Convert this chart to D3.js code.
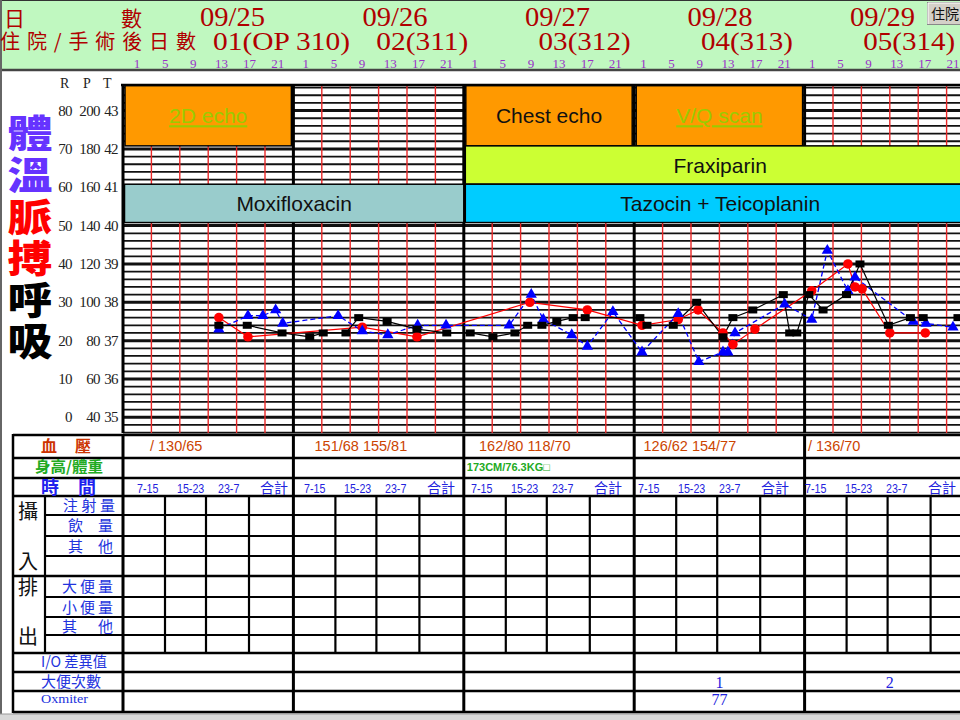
<!DOCTYPE html>
<html><head><meta charset="utf-8">
<script src="https://cdn.jsdelivr.net/npm/d3@7"></script>
<style>body{margin:0;background:#fff}svg{display:block}</style>
</head><body>
<svg id="c" width="960" height="720"></svg>
<script>
// ---------------- DATA ----------------
const days = ["09/25","09/26","09/27","09/28","09/29"];
const dayCounts = ["01(OP 310)","02(311)","03(312)","04(313)","05(314)"];
const hourTicks = [1,5,9,13,17,21];
const tempTicks = [35,36,37,38,39,40,41,42,43];
const pulseTicks = [40,60,80,100,120,140,160,180,200];
const respTicks = [0,10,20,30,40,50,60,70,80];
const bloodPressure = ["/ 130/65","151/68 155/81","162/80 118/70","126/62 154/77","/ 136/70"];
const heightWeight = ["","","173CM/76.3KG□","",""];
const shifts = ["7-15","15-23","23-7","合計"];
const stoolCount = ["","","","1","2"];
const oxmeter = ["","","","77",""];
const intakeLabels = ["注 射 量","飲　量","其　他",""];
const outputLabels = ["大 便 量","小 便 量","其　他",""];
const summaryLabels = ["I/O 差異值","大便次數","Oxmiter"];
const sideTitles = [["體溫","#6633ff"],["脈搏","#ff0000"],["呼吸","#000000"]];
// events: label, first day index, last day index, band row, fill, hyperlink?
const events = [
  {label:"2D echo", from:0, to:0, row:0, fill:"#ff9900", link:true},
  {label:"Chest echo", from:2, to:2, row:0, fill:"#ff9900", link:false},
  {label:"V/Q scan", from:3, to:3, row:0, fill:"#ff9900", link:true},
  {label:"Fraxiparin", from:2, to:5, row:1, fill:"#ccff33", link:false},
  {label:"Moxifloxacin", from:0, to:1, row:2, fill:"#99cccc", link:false},
  {label:"Tazocin + Teicoplanin", from:2, to:5, row:2, fill:"#00ccff", link:false}
];
// time in hours since 09/25 00:00
const pulse = [[12.5,92],[16.6,82],[32.7,87],[40.4,82],[56.3,100],[64.4,96],[72.1,88],[77.2,91],[80,96],[83.5,84],[84.9,78],[88,86],[96,106],[101.1,120],[102.1,108],[103.1,107],[107,84],[112,84]];
const temperature = [[12.5,37.3],[16.6,37.65],[18.7,37.65],[20.5,37.8],[21.5,37.45],[29.3,37.65],[32.7,37.25],[36.3,37.15],[40.5,37.4],[44.5,37.4],[53.4,37.4],[56.5,38.2],[58.2,37.55],[62.2,37.15],[64.4,36.85],[68,37.75],[72.1,36.7],[77.2,37.7],[80.1,36.45],[83.5,36.7],[84.2,36.7],[85.2,37.2],[92.2,37.95],[96,37.55],[98.2,39.35],[101.1,38.3],[102.1,38.65],[110.3,37.5],[112.1,37.45],[115.9,37.35]];
const respiration = [[12.5,24],[16.5,24],[21.4,22],[25.3,21],[27.2,22],[30.4,22],[32.2,26],[36.2,25],[40.4,23],[44.6,22],[47.9,22],[51.1,21],[54.2,22],[56,24],[58,24],[60.1,25],[62.4,26],[64.1,26],[71.8,26],[72.8,24],[76.5,24],[79.8,30],[83.5,21],[84.9,26],[87.7,28],[92,32],[92.9,22],[93.9,22],[95.6,32],[97.6,28],[100.9,32],[102.8,40],[106.8,24],[109.9,26],[111.7,26],[116.6,26]];

// ---------------- SETUP ----------------
const svg = d3.select("#c");
const CJK = "'Noto Sans CJK TC','Noto Sans CJK SC',sans-serif";
const SERIF = "'Liberation Serif','DejaVu Serif',serif";
const SANS = "'Liberation Sans',Arial,sans-serif";

const x = d3.scaleLinear().domain([-1,119]).range([123,975]);
const yT = d3.scaleLinear().domain([35,43]).range([417.3,110.6]);
const yP = d3.scaleLinear().domain([40,200]).range([417.3,110.6]);
const yR = d3.scaleLinear().domain([0,80]).range([417.3,110.6]);
const hx = d3.scaleLinear().domain([1,117]).range([137,953]);
const dayX = d => x(-1 + 24*d);
const GT = 85, GB = 433;

svg.append("rect").attr("width",960).attr("height",720).attr("fill","#fff");
// header
svg.append("rect").attr("x",0).attr("y",0).attr("width",960).attr("height",69).attr("fill","#c0f8c0");
svg.append("line").attr("x1",0).attr("x2",960).attr("y1",0.5).attr("y2",0.5).attr("stroke","#333");
svg.append("line").attr("x1",0).attr("x2",960).attr("y1",70).attr("y2",70).attr("stroke","#444").attr("stroke-width",2.5);
svg.append("line").attr("x1",1).attr("x2",1).attr("y1",0).attr("y2",716).attr("stroke","#666").attr("stroke-width",2);
svg.append("rect").attr("x",0).attr("y",714).attr("width",960).attr("height",6).attr("fill","#d8d8d8");
svg.append("line").attr("x1",0).attr("x2",960).attr("y1",714).attr("y2",714).attr("stroke","#999");

const hdr = svg.append("g").attr("fill","#b00000");
hdr.append("text").attr("x",4).attr("y",26).style("font",`21px ${CJK}`).text("日");
hdr.append("text").attr("x",121).attr("y",26).style("font",`21px ${CJK}`).text("數");
hdr.append("text").attr("x",0).attr("y",49).attr("textLength",196).attr("lengthAdjust","spacing")
  .style("font",`20px ${CJK}`).text("住院/手術後日數");
hdr.selectAll("text.date").data(days).join("text").attr("class","date")
  .attr("x",(d,i)=>200+162.5*i).attr("y",26).attr("textLength",65).attr("lengthAdjust","spacingAndGlyphs")
  .style("font",`28px ${SERIF}`).text(d=>d);
hdr.selectAll("text.cnt").data(dayCounts).join("text").attr("class","cnt")
  .attr("x",(d,i)=>i===0?213:214+162.3*i).attr("y",50)
  .attr("textLength",(d,i)=>i===0?137:92).attr("lengthAdjust","spacingAndGlyphs")
  .style("font",`26px ${SERIF}`).text(d=>d);
const tickHours = [];
days.forEach((d,i)=>hourTicks.forEach(h=>tickHours.push({h:h+24*i,label:h})));
svg.append("g").selectAll("text").data(tickHours).join("text")
  .attr("x",d=>hx(d.h)).attr("y",67.5).attr("text-anchor","middle").attr("fill","#9a30c8")
  .style("font",`13px ${SERIF}`).text(d=>d.label);
// button
svg.append("rect").attr("x",927.5).attr("y",2.5).attr("width",40).attr("height",22).attr("fill","#d4d0c8").attr("stroke","#888");
svg.append("path").attr("d","M928,24 L928,3 L968,3").attr("fill","none").attr("stroke","#fff");
svg.append("text").attr("x",931).attr("y",19).style("font",`14px ${CJK}`).attr("fill","#111").text("住院");

// ---------------- LEFT AXIS ----------------
svg.append("g").attr("transform","translate(30,0) scale(1.18,1)")
  .selectAll("text").data(sideTitles).join("text")
  .attr("x",0).attr("y",(d,i)=>114+i*83.2)
  .style("writing-mode","vertical-rl").style("text-orientation","upright")
  .style("letter-spacing","3.6px")
  .attr("fill",d=>d[1]).style("font",`900 38px ${CJK}`).text(d=>d[0]);
const ax = svg.append("g").attr("fill","#222").style("font",`15px ${SERIF}`).style("letter-spacing","-0.6px");
[["R",60],["P",83],["T",103]].forEach(([t,px])=>ax.append("text").attr("x",px).attr("y",88).style("font-size","14px").text(t));
ax.selectAll("text.t").data(tempTicks).join("text").attr("class","t").attr("x",118).attr("y",d=>yT(d)+5).attr("text-anchor","end").text(d=>d);
ax.selectAll("text.p").data(pulseTicks).join("text").attr("class","p").attr("x",100).attr("y",d=>yP(d)+5).attr("text-anchor","end").text(d=>d);
ax.selectAll("text.r").data(respTicks).join("text").attr("class","r").attr("x",72).attr("y",d=>yR(d)+5).attr("text-anchor","end").text(d=>d);

// ---------------- GRID ----------------
const grid = svg.append("g");
const hLines = d3.range(34.6, 43.61, 0.2).map(v=>+v.toFixed(1)).filter(v=>yT(v)>GT && yT(v)<GB);
grid.selectAll("line.h").data(hLines).join("line").attr("class","h")
  .attr("x1",123).attr("x2",960).attr("y1",d=>yT(d)).attr("y2",d=>yT(d))
  .attr("stroke","#111").attr("stroke-width",d=>Math.abs(d-Math.round(d))<0.01?3:1.8);
const slotLines = d3.range(1,30).filter(k=>k%6!==0).map(k=>-1+4*k);
grid.selectAll("line.v").data(slotLines).join("line").attr("class","v")
  .attr("x1",d=>x(d)).attr("x2",d=>x(d)).attr("y1",GT).attr("y2",GB).attr("stroke","#e82828").attr("stroke-width",1.4);
grid.selectAll("line.d").data(d3.range(0,6)).join("line").attr("class","d")
  .attr("x1",d=>dayX(d)).attr("x2",d=>dayX(d)).attr("y1",GT).attr("y2",GB).attr("stroke","#000").attr("stroke-width",3);
grid.append("line").attr("x1",121).attr("x2",960).attr("y1",GT).attr("y2",GT).attr("stroke","#000").attr("stroke-width",2.5);

// ---------------- EVENTS ----------------
const bands = [[43.65,42.08],[42.08,41.08],[41.08,40.08]];
const ev = svg.append("g");
events.forEach(e=>{
  const x0 = dayX(e.from)+ (e.row===0?2:1.5), x1 = Math.min(dayX(e.to+1),990) - (e.row===0?2:0);
  const y0 = yT(bands[e.row][0]), y1 = yT(bands[e.row][1]);
  ev.append("rect").attr("x",x0).attr("y",y0).attr("width",x1-x0).attr("height",y1-y0)
    .attr("fill",e.fill).attr("stroke","#000").attr("stroke-width",1.5);
  const cx = (x0+Math.min(x1,975))/2;
  ev.append("text").attr("x",cx).attr("y",(y0+y1)/2+7.5).attr("text-anchor","middle")
    .attr("fill",e.link?"#99cc00":"#111").style("font",`21px ${SANS}`)
    .style("text-decoration",e.link?"underline":"none").text(e.label);
});

// ---------------- SERIES ----------------
const series = svg.append("g");
const mk = ys => d3.line().x(d=>x(d[0])).y(d=>ys(d[1]));
series.append("path").datum(pulse).attr("d",mk(yP)).attr("fill","none").attr("stroke","#ff0000").attr("stroke-width",1.2);
series.append("path").datum(temperature).attr("d",mk(yT)).attr("fill","none").attr("stroke","#0000ff").attr("stroke-width",1.3).attr("stroke-dasharray","5,3");
series.append("path").datum(respiration).attr("d",mk(yR)).attr("fill","none").attr("stroke","#000").attr("stroke-width",1.2);
series.selectAll("circle").data(pulse).join("circle").attr("cx",d=>x(d[0])).attr("cy",d=>yP(d[1])).attr("r",4.8).attr("fill","#ff0000");
series.selectAll("path.tri").data(temperature).join("path").attr("class","tri")
  .attr("transform",d=>`translate(${x(d[0])},${yT(d[1])})`).attr("d",d3.symbol(d3.symbolTriangle,55)).attr("fill","#0000ff");
series.selectAll("rect").data(respiration).join("rect").attr("x",d=>x(d[0])-4.5).attr("y",d=>yR(d[1])-3.5).attr("width",9).attr("height",7).attr("fill","#000");

// ---------------- TABLE ----------------
const rowsY = [435,458,478,496,515,536,556,576,597,617,635,653,672,691,712];
const tb = svg.append("g").attr("stroke","#000");
[435,458,478,496,576,653,672,691,712].forEach(y=>tb.append("line").attr("x1",13).attr("x2",960).attr("y1",y).attr("y2",y).attr("stroke-width",2.5));
[515,536,556,597,617,635].forEach(y=>tb.append("line").attr("x1",45).attr("x2",960).attr("y1",y).attr("y2",y).attr("stroke-width",2.2));
tb.append("line").attr("x1",13).attr("x2",13).attr("y1",434).attr("y2",713).attr("stroke-width",2.5);
tb.append("line").attr("x1",45).attr("x2",45).attr("y1",496).attr("y2",653).attr("stroke-width",2.2);
tb.append("line").attr("x1",123).attr("x2",123).attr("y1",434).attr("y2",713).attr("stroke-width",3);
d3.range(1,5).forEach(d=>tb.append("line").attr("x1",dayX(d)).attr("x2",dayX(d)).attr("y1",434).attr("y2",713).attr("stroke-width",3));
d3.range(0,5).forEach(d=>[42,83,126].forEach(o=>tb.append("line").attr("x1",dayX(d)+o).attr("x2",dayX(d)+o).attr("y1",496).attr("y2",653).attr("stroke-width",2.2)));

const tt = svg.append("g");
tt.append("text").attr("x",41).attr("y",452).attr("textLength",50).attr("lengthAdjust","spacing").attr("fill","#cc3300").style("font",`bold 16px ${CJK}`).text("血壓");
tt.append("text").attr("x",35).attr("y",472).attr("textLength",68).attr("lengthAdjust","spacingAndGlyphs").attr("fill","#22aa22").style("font",`bold 15px ${CJK}`).text("身高/體重");
tt.append("text").attr("x",41).attr("y",494).attr("textLength",55).attr("lengthAdjust","spacing").attr("fill","#2020ee").style("font",`bold 18px ${CJK}`).text("時間");
tt.selectAll("text.bp").data(bloodPressure).join("text").attr("class","bp")
  .attr("x",(d,i)=>150+164.5*i).attr("y",451).attr("fill","#cc4400").style("font",`14.5px ${SANS}`).text(d=>d);
tt.selectAll("text.hw").data(heightWeight).join("text").attr("class","hw")
  .attr("x",(d,i)=>dayX(i)+3).attr("y",471).attr("fill","#22aa22").style("font",`bold 11px ${SANS}`).text(d=>d);
const shiftOff = [0,40,81,123];
days.forEach((d,i)=>shifts.forEach((s,j)=>{
  const t = tt.append("text").attr("x",137+167*i+shiftOff[j]).attr("y",493).attr("fill","#2222dd")
    .style("font",j===3?`14px ${CJK}`:`13px ${SANS}`).text(s);
  if(j<3){ const w=t.node().getComputedTextLength(); t.attr("textLength",w*0.82).attr("lengthAdjust","spacingAndGlyphs"); }
}));
const lab = (txt,x0,w,y,size,col)=>{
  if(!txt) return;
  tt.append("text").attr("x",x0).attr("y",y).attr("textLength",w).attr("lengthAdjust","spacing")
    .attr("fill",col).style("font",`${size}px ${CJK}`).text(txt.replace(/[ 　]/g,""));
};
intakeLabels.forEach((t,i)=>lab(t,i===0?63:68,i===0?52:45,(rowsY[3+i]+rowsY[4+i])/2+5.5,15,"#2233dd"));
outputLabels.forEach((t,i)=>lab(t,62,51,(rowsY[7+i]+rowsY[8+i])/2+5.5,15,"#2233dd"));
tt.append("text").attr("x",41).attr("y",667).attr("textLength",66).attr("lengthAdjust","spacingAndGlyphs").attr("fill","#2233dd").style("font",`15px ${CJK}`).text(summaryLabels[0]);
tt.append("text").attr("x",41).attr("y",687).attr("textLength",60).attr("lengthAdjust","spacingAndGlyphs").attr("fill","#2233dd").style("font",`15px ${CJK}`).text(summaryLabels[1]);
tt.append("text").attr("x",41).attr("y",703).attr("textLength",47).attr("lengthAdjust","spacingAndGlyphs").attr("fill","#2233dd").style("font",`13px ${SERIF}`).text(summaryLabels[2]);
[["攝",519],["入",569],["排",595],["出",644]].forEach(([c,y])=>tt.append("text").attr("x",28).attr("y",y).attr("text-anchor","middle").attr("fill","#111").style("font",`20px ${CJK}`).text(c));
tt.selectAll("text.sc").data(stoolCount).join("text").attr("class","sc")
  .attr("x",(d,i)=>(dayX(i)+dayX(i+1))/2).attr("y",688).attr("text-anchor","middle").attr("fill","#2222dd").style("font",`16px ${SERIF}`).text(d=>d);
tt.selectAll("text.ox").data(oxmeter).join("text").attr("class","ox")
  .attr("x",(d,i)=>(dayX(i)+dayX(i+1))/2).attr("y",705).attr("text-anchor","middle").attr("fill","#2222dd").style("font",`16px ${SERIF}`).text(d=>d);
</script>
</body></html>
